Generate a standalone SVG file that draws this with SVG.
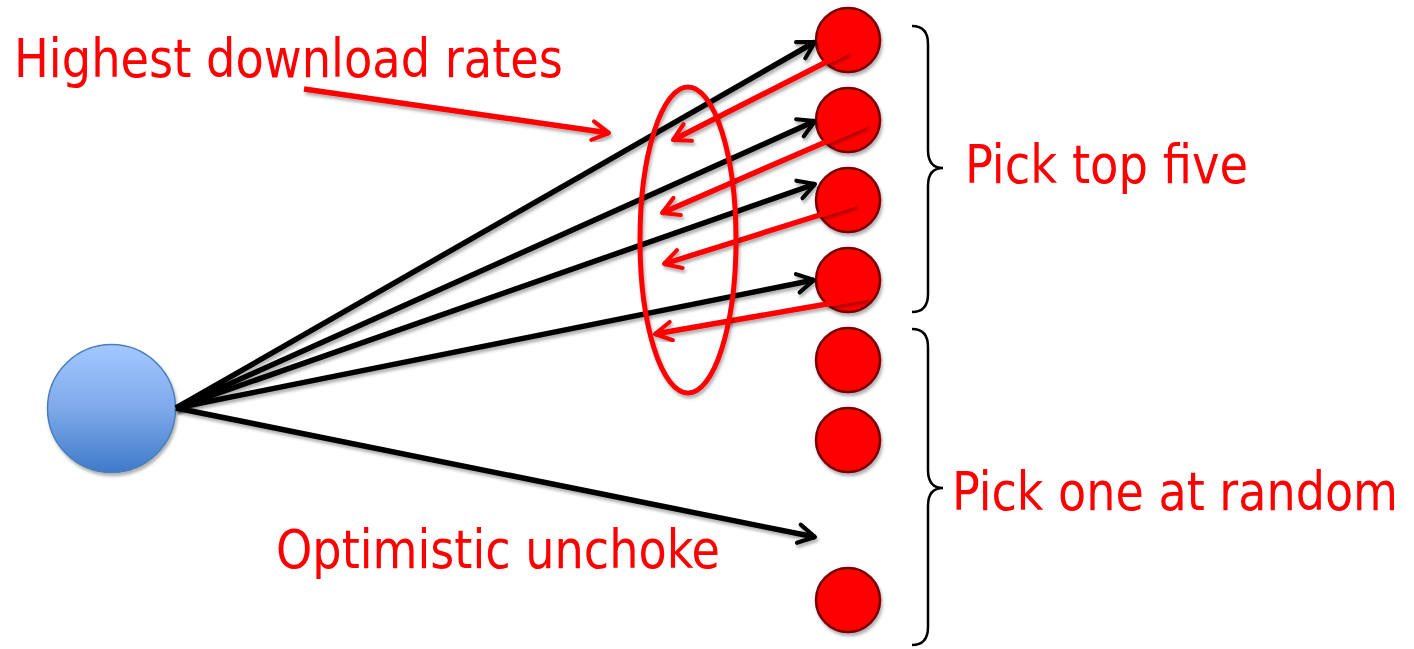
<svg xmlns="http://www.w3.org/2000/svg" width="1414" height="649" viewBox="0 0 1414 649">
  <defs>
    <linearGradient id="blueGrad" x1="0" y1="0" x2="0" y2="1">
      <stop offset="0" stop-color="#a3c8ff"/>
      <stop offset="0.5" stop-color="#7ea9ea"/>
      <stop offset="1" stop-color="#3f7ac9"/>
    </linearGradient>
    <filter id="shadow" x="-20%" y="-20%" width="140%" height="140%">
      <feDropShadow dx="1.5" dy="3" stdDeviation="1.5" flood-color="#000" flood-opacity="0.3"/>
    </filter>
    <marker id="blackHead" viewBox="0 0 12 12" refX="10" refY="6" markerWidth="4.5" markerHeight="4.5" markerUnits="strokeWidth" orient="auto">
      <path d="M2,1.5 L10,6 L2,10.5" fill="none" stroke="#000" stroke-width="2" stroke-linecap="round" stroke-linejoin="round"/>
    </marker>
    <marker id="redHead" viewBox="0 0 12 12" refX="10" refY="6" markerWidth="4.5" markerHeight="4.5" markerUnits="strokeWidth" orient="auto">
      <path d="M2,1.5 L10,6 L2,10.5" fill="none" stroke="#ff0000" stroke-width="2" stroke-linecap="round" stroke-linejoin="round"/>
    </marker>
    <style>
      .peer { fill: #ff0000; stroke: #7a0000; stroke-width: 2.5; filter: url(#shadow); }
      .me { fill: url(#blueGrad); stroke: #4a7ebb; stroke-width: 1.5; filter: url(#shadow); }
      .blk { stroke: #000; stroke-width: 5.5; fill: none; marker-end: url(#blackHead); filter: url(#shadow); }
      .red { stroke: #ff0000; stroke-width: 5.5; fill: none; marker-end: url(#redHead); filter: url(#shadow); }
      .brace { fill: none; stroke: #000; stroke-width: 2.5; }
      .lbl { font-family: "DejaVu Sans Condensed", "DejaVu Sans", Verdana, sans-serif; font-size: 53px; fill: #ff0000; }
    </style>
  </defs>

  <g id="source-node">
    <circle class="me" cx="111.5" cy="408.5" r="64"/>
  </g>

  <g id="peers">
    <circle id="peer1" class="peer" cx="848" cy="40" r="32"/>
    <circle id="peer2" class="peer" cx="848" cy="120" r="32"/>
    <circle id="peer3" class="peer" cx="848" cy="200" r="32"/>
    <circle id="peer4" class="peer" cx="848" cy="280" r="32"/>
    <circle id="peer5" class="peer" cx="848" cy="360" r="32"/>
    <circle id="peer6" class="peer" cx="848" cy="440" r="32"/>
    <circle id="peer7" class="peer" cx="848" cy="600" r="32"/>
  </g>

  <g id="connectors">
    <line class="blk" x1="176" y1="408" x2="815" y2="42"/>
    <line class="blk" x1="176" y1="408" x2="815" y2="121"/>
    <line class="blk" x1="176" y1="408" x2="815" y2="184"/>
    <line class="blk" x1="176" y1="408" x2="814" y2="280"/>
    <line class="blk" x1="176" y1="408" x2="815" y2="537"/>
    <line class="red" x1="848" y1="51" x2="673" y2="140"/>
    <line class="red" x1="867" y1="124" x2="662" y2="213"/>
    <line class="red" x1="855" y1="204" x2="664" y2="264"/>
    <line class="red" x1="867" y1="297" x2="655" y2="334"/>
    <line class="red" x1="304" y1="89" x2="609" y2="133"/>
  </g>

  <g id="highlight-ellipse">
    <ellipse cx="688" cy="240" rx="48" ry="153" fill="none" stroke="#ff0000" stroke-width="5" filter="url(#shadow)"/>
  </g>

  <g id="brace-top">
    <path class="brace" d="M912,26 Q928,26 928,44 L928,150 Q928,168 943,168 Q928,168 928,186 L928,294 Q928,312 912,312"/>
  </g>
  <g id="brace-bottom">
    <path class="brace" d="M912,329 Q928,329 928,347 L928,470 Q928,488 943,488 Q928,488 928,506 L928,627 Q928,645 912,645"/>
  </g>

  <g id="labels">
    <text class="lbl" x="14" y="77" textLength="549" lengthAdjust="spacingAndGlyphs">Highest download rates</text>
    <text class="lbl" x="965" y="183" textLength="283" lengthAdjust="spacingAndGlyphs">Pick top five</text>
    <text class="lbl" x="952" y="510" textLength="446" lengthAdjust="spacingAndGlyphs">Pick one at random</text>
    <text class="lbl" x="276" y="568" textLength="444" lengthAdjust="spacingAndGlyphs">Optimistic unchoke</text>
  </g>
</svg>
